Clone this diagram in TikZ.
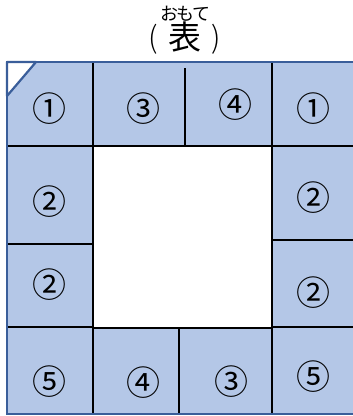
\documentclass[tikz,border=0pt]{standalone}
\usepackage{fontspec}
\newfontfamily\jp{Noto Sans CJK JP}
\newfontfamily\jplight{Noto Sans CJK JP Light}
\definecolor{cellblue}{HTML}{B4C7E7}
\definecolor{edgeblue}{HTML}{3A5E9A}
\begin{document}
\begin{tikzpicture}[x=1pt,y=-1pt,
  num/.style={font=\jp\fontsize{34}{34}\selectfont, inner sep=0pt},
  inner/.style={black, line width=1.3pt},
  outer/.style={edgeblue, line width=2.2pt},
  kana/.style={font=\jp\fontsize{18}{18}\selectfont, inner sep=0pt},
  paren/.style={font=\jplight\fontsize{30}{30}\selectfont, inner sep=0pt}]
\useasboundingbox (0,0) rectangle (353,416);
\begin{scope}
\clip (0,0) rectangle (353,416);
\fill[cellblue] (7,62) rectangle (370,414);
\fill[white] (93,146) rectangle (272,328);
\draw[inner] (93,62) -- (93,414);
\draw[inner] (272,62) -- (272,414);
\draw[inner] (185,68) -- (185,146);
\draw[inner] (179,328) -- (179,414);
\draw[inner] (7,146) -- (370,146);
\draw[inner] (93,328) -- (272,328);
\draw[inner] (7,244) -- (93,244);
\draw[inner] (7,327) -- (93,327);
\draw[inner] (272,240) -- (370,240);
\draw[inner] (272,327) -- (370,327);
\draw[outer] (370,62) -- (7,62) -- (7,414) -- (370,414);
\filldraw[fill=white, draw=edgeblue, line width=2.2pt, line join=round] (7,62) -- (36,62) -- (7,96) -- cycle;
\end{scope}
\node[num] (a1) at (49,109) {①};
\node[num] (a2) at (143,109) {③};
\node[num] (a3) at (235,105) {④};
\node[num] (a4) at (313,109) {①};
\node[num] (b1) at (49,202) {②};
\node[num] (b2) at (313,198) {②};
\node[num] (c1) at (49,285) {②};
\node[num] (c2) at (313,293) {②};
\node[num] (d1) at (49,382) {⑤};
\node[num] (d2) at (143,383) {④};
\node[num] (d3) at (231,382) {③};
\node[num] (d4) at (313,377) {⑤};
\node[font=\jp\fontsize{33}{33}\selectfont, inner sep=0pt] (title) at (185,37) {表};
\node[paren] (lp) at (153,39) {(};
\node[paren] (rp) at (216,39) {)};
\node[kana] (k1) at (169,14) {お};
\node[kana] (k2) at (185,14) {も};
\node[kana] (k3) at (201,14) {て};
\end{tikzpicture}
\end{document}
